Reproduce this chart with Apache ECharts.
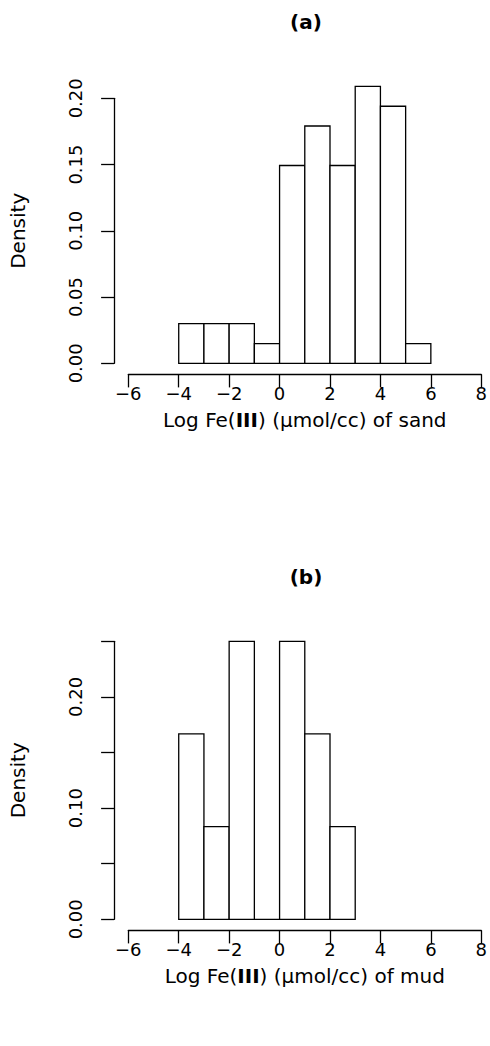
<!DOCTYPE html>
<html>
<head>
<meta charset="utf-8">
<script src="https://cdn.jsdelivr.net/npm/echarts@6/dist/echarts.min.js"></script>
<style>
html,body{margin:0;padding:0;background:#fff;}
#chart{width:490px;height:1046px;}
</style>
</head>
<body>
<div id="chart"></div>
<script>
// Panel (a): sand
var breaksA = [-4, -3, -2, -1, 0, 1, 2, 3, 4, 5, 6];
var densityA = [0.0299, 0.0299, 0.0299, 0.0149, 0.1493, 0.1791, 0.1493, 0.2090, 0.1940, 0.0149];
// Panel (b): mud
var breaksB = [-4, -3, -2, -1, 0, 1, 2, 3];
var densityB = [0.1667, 0.0833, 0.25, 0, 0.25, 0.1667, 0.0833];

var xTicks = [-6, -4, -2, 0, 2, 4, 6, 8];
var yTicksA = [0.00, 0.05, 0.10, 0.15, 0.20];
var yTicksB = [0.00, 0.05, 0.10, 0.15, 0.20, 0.25];
var yLabelsB = ['0.00', '', '0.10', '', '0.20', ''];

var titles = ['(a)', '(b)'];
var xNameParts = [['Log Fe(', 'III', ') (\u00b5mol/cc) of sand'], ['Log Fe(', 'III', ') (\u00b5mol/cc) of mud']];
var yName = 'Density';

function binData(breaks, dens) {
  var out = [];
  for (var i = 0; i < dens.length; i++) out.push([breaks[i], breaks[i + 1], dens[i]]);
  return out;
}

var FONT = 'DejaVu Sans';
var LW = 1.3;

function renderBar(params, api) {
  var p0 = api.coord([api.value(0), api.value(2)]);
  var p1 = api.coord([api.value(1), 0]);
  return {
    type: 'rect',
    shape: { x: p0[0], y: p0[1], width: p1[0] - p0[0], height: p1[1] - p0[1] },
    style: { fill: '#fff', stroke: '#000', lineWidth: LW }
  };
}

function xAxisCfg(gi, parts) {
  return {
    type: 'value', gridIndex: gi, min: xTicks[0], max: xTicks[xTicks.length - 1], interval: 2,
    offset: 11.1, name: '{n|' + parts[0] + '}{b|' + parts[1] + '}{n|' + parts[2] + '}',
    nameLocation: 'middle', nameGap: 36,
    nameTextStyle: {
      fontFamily: FONT, fontSize: 20, color: '#000',
      rich: {
        n: { fontFamily: FONT, fontSize: 20, color: '#000' },
        b: { fontFamily: FONT, fontSize: 20, color: '#000', fontWeight: 'bold' }
      }
    },
    axisLine: { show: true, onZero: false, lineStyle: { color: '#000', width: LW } },
    axisTick: { show: true, inside: false, length: 13, lineStyle: { color: '#000', width: LW } },
    axisLabel: {
      margin: 10, fontFamily: FONT, fontSize: 18, color: '#000',
      formatter: function (v) { return v < 0 ? '\u2212' + Math.abs(v) : String(v); }
    },
    splitLine: { show: false }
  };
}

function yAxisCfg(gi, ticks, labels) {
  return {
    type: 'value', gridIndex: gi, min: ticks[0], max: ticks[ticks.length - 1], interval: 0.05,
    offset: 14.2, name: yName, nameLocation: 'middle', nameRotate: 90, nameGap: 86,
    nameTextStyle: { fontFamily: FONT, fontSize: 20, color: '#000' },
    axisLine: { show: true, onZero: false, lineStyle: { color: '#000', width: LW } },
    axisTick: { show: true, inside: false, length: 13, lineStyle: { color: '#000', width: LW } },
    axisLabel: {
      rotate: 90, margin: 30, fontFamily: FONT, fontSize: 18, color: '#000',
      formatter: function (v) {
        for (var i = 0; i < ticks.length; i++) {
          if (Math.abs(ticks[i] - v) < 1e-9) return labels ? labels[i] : ticks[i].toFixed(2);
        }
        return '';
      }
    },
    splitLine: { show: false }
  };
}

var chart = echarts.init(document.getElementById('chart'), null, { renderer: 'svg' });
chart.setOption({
  backgroundColor: '#fff',
  animation: false,
  title: [
    { text: titles[0], left: 306, top: 12, textAlign: 'center', padding: 0,
      textStyle: { fontFamily: FONT, fontSize: 20, fontWeight: 'bold', color: '#000' } },
    { text: titles[1], left: 306, top: 567, textAlign: 'center', padding: 0,
      textStyle: { fontFamily: FONT, fontSize: 20, fontWeight: 'bold', color: '#000' } }
  ],
  grid: [
    { left: 128.3, width: 355, top: 98.3, height: 265 },
    { left: 128.3, width: 355, top: 641.3, height: 278 }
  ],
  xAxis: [xAxisCfg(0, xNameParts[0]), xAxisCfg(1, xNameParts[1])],
  yAxis: [yAxisCfg(0, yTicksA, null), yAxisCfg(1, yTicksB, yLabelsB)],
  series: [
    { type: 'custom', xAxisIndex: 0, yAxisIndex: 0, renderItem: renderBar, data: binData(breaksA, densityA), clip: false, silent: true },
    { type: 'custom', xAxisIndex: 1, yAxisIndex: 1, renderItem: renderBar, data: binData(breaksB, densityB), clip: false, silent: true }
  ]
});
</script>
</body>
</html>
